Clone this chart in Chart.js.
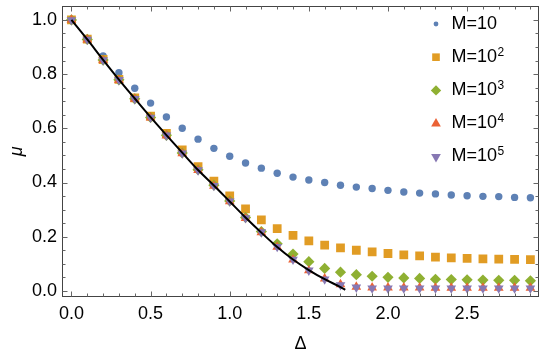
<!DOCTYPE html>
<html><head><meta charset="utf-8">
<script src="https://cdn.jsdelivr.net/npm/chart.js@4.4.1/dist/chart.umd.min.js"></script>
<style>html,body{margin:0;padding:0;background:#fff}canvas{display:block}</style>
</head><body>
<canvas id="c" width="545" height="355"></canvas>
<script>
// ---- data ----
const deltas = [0.0,0.1,0.2,0.3,0.4,0.5,0.6,0.7,0.8,0.9,1.0,1.1,1.2,1.3,1.4,1.5,1.6,1.7,1.8,1.9,2.0,2.1,2.2,2.3,2.4,2.5,2.6,2.7,2.8,2.9];
const seriesLabels = ['M=10','M=10²','M=10³','M=10⁴','M=10⁵'];
const muM1 = [1.000,0.932,0.867,0.805,0.748,0.693,0.642,0.600,0.560,0.526,0.497,0.472,0.453,0.434,0.420,0.409,0.400,0.390,0.383,0.378,0.371,0.365,0.361,0.358,0.354,0.351,0.349,0.348,0.345,0.344];
const muM2 = [1.000,0.929,0.854,0.781,0.712,0.645,0.581,0.520,0.459,0.405,0.351,0.303,0.262,0.230,0.205,0.185,0.169,0.159,0.150,0.144,0.138,0.133,0.129,0.125,0.122,0.120,0.118,0.117,0.116,0.115];
const muM3 = [1.000,0.928,0.852,0.779,0.709,0.640,0.574,0.509,0.447,0.390,0.332,0.271,0.219,0.174,0.136,0.108,0.083,0.069,0.060,0.054,0.050,0.048,0.046,0.043,0.042,0.041,0.040,0.039,0.039,0.037];
const muM4 = [1.000,0.927,0.851,0.778,0.708,0.639,0.573,0.507,0.445,0.387,0.330,0.268,0.216,0.162,0.115,0.075,0.045,0.024,0.015,0.012,0.012,0.012,0.012,0.011,0.011,0.011,0.011,0.011,0.011,0.011];
const muM5 = [1.000,0.928,0.852,0.779,0.709,0.640,0.574,0.508,0.446,0.388,0.331,0.269,0.217,0.163,0.116,0.076,0.043,0.022,0.013,0.010,0.010,0.010,0.010,0.010,0.010,0.010,0.010,0.010,0.010,0.010];
const curveDelta = [0.0,0.1,0.2,0.3,0.4,0.5,0.6,0.7,0.8,0.9,1.0,1.1,1.2,1.3,1.4,1.5,1.6,1.7,1.73];
const curveMu = [1.000,0.928,0.853,0.780,0.710,0.641,0.575,0.510,0.446,0.389,0.330,0.271,0.215,0.162,0.116,0.077,0.043,0.014,0.004];
const xTicks = [0.0,0.5,1.0,1.5,2.0,2.5];
const yTicks = [0.0,0.2,0.4,0.6,0.8,1.0];
const xMinorStep = 0.1, yMinorStep = 0.05;

// ---- styling ----
const colors = ['#5E81B5','#E19C24','#8FB032','#EB6235','#8778B3'];
const styles = [
  {pointStyle:'circle', radius:3.7, rotation:0},
  {pointStyle:'rect', radius:6.2, rotation:0},
  {pointStyle:'rectRot', radius:5.6, rotation:0},
  {pointStyle:'triangle', radius:5.6, rotation:0},
  {pointStyle:'triangle', radius:5.6, rotation:180}
];
const legendRadius = [2.4, 5.4, 5.2, 5.6, 5.6];
const FONT = "'Liberation Sans', Arial, sans-serif";
const seriesData = [muM1, muM2, muM3, muM4, muM5];

const datasets = seriesData.map((arr, i) => ({
  type: 'scatter',
  label: seriesLabels[i],
  data: deltas.map((d, k) => ({x: d, y: arr[k]})),
  pointStyle: styles[i].pointStyle,
  pointRadius: styles[i].radius,
  pointRotation: styles[i].rotation,
  backgroundColor: colors[i],
  borderColor: colors[i],
  borderWidth: 0,
  showLine: false,
  order: 6 - i
}));
datasets.push({
  type: 'line',
  label: 'curve',
  data: curveDelta.map((d, k) => ({x: d, y: curveMu[k]})),
  borderColor: '#000',
  borderWidth: 2,
  pointRadius: 0,
  cubicInterpolationMode: 'monotone',
  fill: false,
  order: 0
});

function drawMarker(ctx, st, r, x, y, color) {
  ctx.save();
  ctx.fillStyle = color;
  ctx.beginPath();
  if (st.pointStyle === 'circle') {
    ctx.arc(x, y, r, 0, Math.PI * 2);
  } else if (st.pointStyle === 'rect') {
    const s = Math.SQRT1_2 * r;
    ctx.rect(x - s, y - s, 2 * s, 2 * s);
  } else if (st.pointStyle === 'rectRot') {
    ctx.moveTo(x, y - r); ctx.lineTo(x + r, y); ctx.lineTo(x, y + r); ctx.lineTo(x - r, y);
  } else {
    let rad = st.rotation * Math.PI / 180;
    for (let k = 0; k < 3; k++) {
      const px = x + Math.sin(rad) * r, py = y - Math.cos(rad) * r;
      if (k === 0) ctx.moveTo(px, py); else ctx.lineTo(px, py);
      rad += 2 * Math.PI / 3;
    }
  }
  ctx.closePath();
  ctx.fill();
  ctx.restore();
}

const framePlugin = {
  id: 'frame',
  afterDatasetsDraw(chart) {
    const {ctx, chartArea: a, scales: {x, y}} = chart;
    ctx.save();
    const L = Math.round(a.left) + 0.5, R = Math.round(a.right) - 0.5;
    const T = Math.round(a.top) + 0.5, B = Math.round(a.bottom) - 0.5;
    ctx.strokeStyle = '#444';
    ctx.lineWidth = 1;
    ctx.strokeRect(L, T, R - L, B - T);
    ctx.strokeStyle = '#666';
    ctx.beginPath();
    for (let i = 0; i <= 40; i++) {
      const v = i * xMinorStep;
      if (v > x.max) break;
      const px = Math.round(x.getPixelForValue(v)) + 0.5;
      const len = (i % 5 === 0) ? 5 : 3;
      ctx.moveTo(px, B); ctx.lineTo(px, B - len);
      ctx.moveTo(px, T); ctx.lineTo(px, T + len);
    }
    for (let i = 0; i <= 40; i++) {
      const v = i * yMinorStep;
      const py = Math.round(y.getPixelForValue(v)) + 0.5;
      if (py < a.top + 1) break;
      const len = (i % 4 === 0) ? 5 : 3;
      ctx.moveTo(L, py); ctx.lineTo(L + len, py);
      ctx.moveTo(R, py); ctx.lineTo(R - len, py);
    }
    ctx.stroke();
    ctx.restore();
  }
};

const supMap = {'²':'2','³':'3','⁴':'4','⁵':'5'};
const legendPlugin = {
  id: 'insideLegend',
  afterDraw(chart) {
    const {ctx} = chart;
    ctx.save();
    seriesLabels.forEach((lab, i) => {
      const my = 24 + i * 33.2;
      drawMarker(ctx, styles[i], legendRadius[i], 436, my, colors[i]);
      let base = lab, exp = '';
      const last = lab.slice(-1);
      if (supMap[last]) { base = lab.slice(0, -1); exp = supMap[last]; }
      ctx.fillStyle = '#000';
      ctx.textBaseline = 'alphabetic';
      ctx.textAlign = 'left';
      ctx.font = '18px ' + FONT;
      ctx.fillText(base, 451.5, my + 4.6);
      if (exp) {
        const w = ctx.measureText(base).width;
        ctx.font = '12px ' + FONT;
        ctx.fillText(exp, 451.5 + w + 0.5, my - 1.5);
      }
    });
    ctx.restore();
  }
};

new Chart(document.getElementById('c'), {
  data: {datasets},
  options: {
    responsive: false,
    animation: false,
    events: [],
    layout: {padding: {left: 0, right: 4, top: 1, bottom: 0}},
    plugins: {legend: {display: false}, tooltip: {enabled: false}},
    scales: {
      x: {
        type: 'linear', position: 'bottom',
        min: -0.0597, max: 2.953,
        grid: {display: false, drawTicks: false},
        border: {display: false},
        afterBuildTicks: s => { s.ticks = xTicks.map(v => ({value: v})); },
        afterFit: s => { s.height = 58.5; s.paddingLeft = 0; s.paddingRight = 0; },
        ticks: {
          color: '#000', padding: 7, maxRotation: 0, autoSkip: false,
          font: {family: FONT, size: 18},
          callback: v => Number(v).toFixed(1)
        },
        title: {display: true, text: 'Δ', color: '#000', font: {family: FONT, size: 18}, padding: {top: 0, bottom: 0}}
      },
      y: {
        type: 'linear', position: 'left',
        min: -0.0207, max: 1.0507,
        grid: {display: false, drawTicks: false},
        border: {display: false},
        afterBuildTicks: s => { s.ticks = yTicks.map(v => ({value: v})); },
        afterFit: s => { s.width = 62; s.paddingTop = 0; s.paddingBottom = 0; },
        ticks: {
          color: '#000', padding: 5, autoSkip: false,
          font: {family: FONT, size: 18},
          callback: v => Number(v).toFixed(1)
        },
        title: {display: true, text: 'μ', color: '#000', font: {family: FONT, size: 18, style: 'italic'}, padding: {top: 6, bottom: 0}}
      }
    }
  },
  plugins: [framePlugin, legendPlugin]
});
</script>
</body></html>
